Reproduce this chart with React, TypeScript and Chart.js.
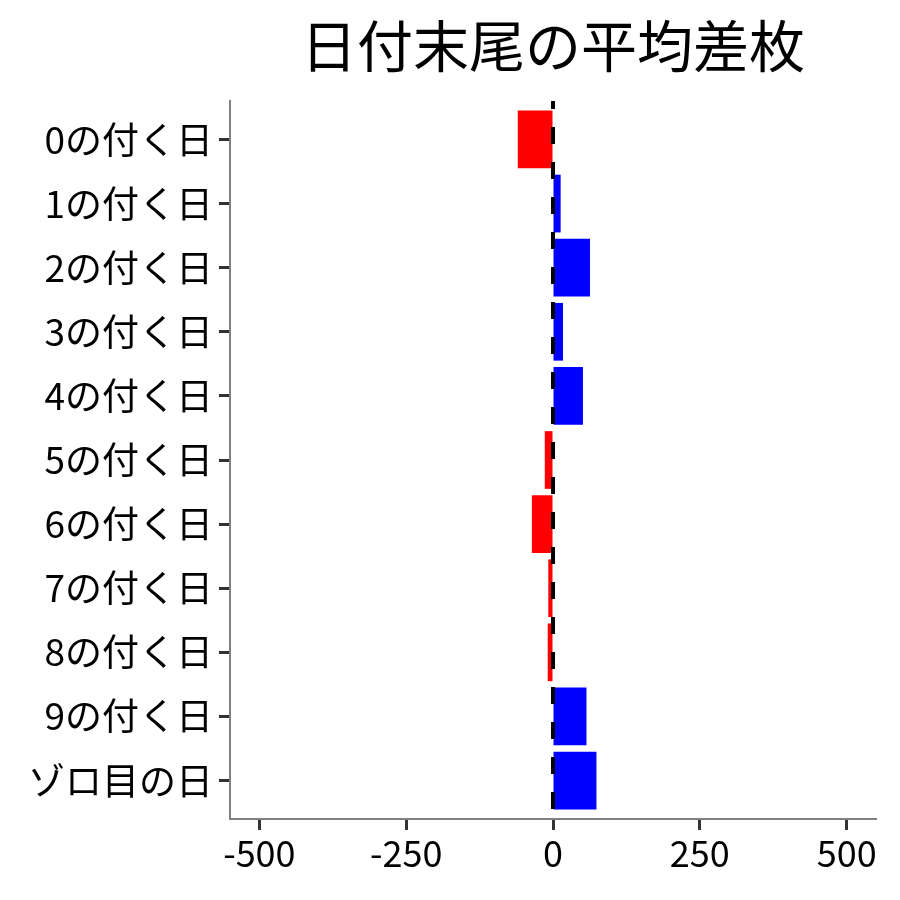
import { useEffect, useRef } from "react";
import { Chart, registerables, ChartConfiguration, Plugin } from "chart.js";

Chart.register(...registerables);

const categories = [
  "0の付く日",
  "1の付く日",
  "2の付く日",
  "3の付く日",
  "4の付く日",
  "5の付く日",
  "6の付く日",
  "7の付く日",
  "8の付く日",
  "9の付く日",
  "ゾロ目の日",
];
const avgDiff = [-60, 13, 63, 17, 51, -14, -36, -8, -9, 57, 74];
const xTicks = [-500, -250, 0, 250, 500];
const chartTitle = "日付末尾の平均差枚";

const FONT = '"Noto Sans CJK JP", "Noto Sans CJK SC", sans-serif';

// title centred over the plot panel, like ggplot does
const titlePlugin: Plugin = {
  id: "panelTitle",
  afterDraw(chart) {
    const { ctx, chartArea } = chart;
    ctx.save();
    ctx.font = `56px ${FONT}`;
    ctx.fillStyle = "#000";
    ctx.textAlign = "center";
    ctx.textBaseline = "middle";
    ctx.fillText(chartTitle, (chartArea.left + chartArea.right) / 2, 46);
    ctx.restore();
  },
};

// dashed reference line at x = 0
const zeroLine: Plugin = {
  id: "zeroLine",
  afterDatasetsDraw(chart) {
    const { ctx, chartArea } = chart;
    const x = chart.scales.x.getPixelForValue(0);
    ctx.save();
    ctx.strokeStyle = "#000";
    ctx.lineWidth = 4;
    ctx.setLineDash([17, 18]);
    ctx.lineDashOffset = 9;
    ctx.beginPath();
    ctx.moveTo(x, chartArea.top);
    ctx.lineTo(x, chartArea.bottom);
    ctx.stroke();
    ctx.restore();
  },
};

export default function App() {
  const chartRef = useRef<HTMLCanvasElement>(null);
  const chartInstance = useRef<Chart | null>(null);

  useEffect(() => {
    if (!chartRef.current) return;
    if (chartInstance.current) chartInstance.current.destroy();
    const ctx = chartRef.current.getContext("2d");
    if (!ctx) return;

    const config: ChartConfiguration = {
      type: "bar",
      data: {
        datasets: [
          {
            data: avgDiff.map((v, i) => ({ x: v, y: i })),
            backgroundColor: avgDiff.map((v) => (v < 0 ? "#ff0000" : "#0000ff")),
            borderWidth: 0,
            barPercentage: 0.9,
            categoryPercentage: 1,
          },
        ],
      },
      options: {
        indexAxis: "y",
        animation: false,
        responsive: true,
        maintainAspectRatio: false,
        layout: { padding: { top: 101, right: 24, left: 0, bottom: 0 } },
        plugins: {
          legend: { display: false },
          title: { display: false },
          tooltip: { enabled: false },
        },
        scales: {
          x: {
            type: "linear",
            min: -550,
            max: 550,
            afterBuildTicks: (scale) => {
              scale.ticks = xTicks.map((v) => ({ value: v }));
            },
            afterFit: (scale) => {
              scale.height = 81;
            },
            grid: {
              drawOnChartArea: false,
              drawTicks: true,
              tickLength: 11,
              tickWidth: 3,
              tickColor: "#333333",
            },
            border: { display: true, color: "#808080", width: 2 },
            ticks: {
              color: "#000",
              font: { family: FONT, size: 36 },
              padding: 2,
              maxRotation: 0,
            },
          },
          y: {
            type: "linear",
            offset: false,
            min: -0.6,
            max: categories.length - 0.4,
            reverse: true,
            afterBuildTicks: (scale) => {
              scale.ticks = categories.map((_, i) => ({ value: i }));
            },
            afterFit: (scale) => {
              scale.width = 230;
            },
            grid: {
              offset: false,
              drawOnChartArea: false,
              drawTicks: true,
              tickLength: 11,
              tickWidth: 3,
              tickColor: "#333333",
            },
            border: { display: true, color: "#808080", width: 2 },
            ticks: {
              color: "#000",
              font: { family: FONT, size: 37 },
              padding: 6,
              callback: (value) => categories[value as number] ?? "",
            },
          },
        },
      },
      plugins: [titlePlugin, zeroLine],
    };

    chartInstance.current = new Chart(ctx, config);

    return () => {
      if (chartInstance.current) {
        chartInstance.current.destroy();
        chartInstance.current = null;
      }
    };
  }, []);

  return (
    <div
      style={{
        position: "absolute",
        left: 0,
        top: 0,
        width: 900,
        height: 900,
        background: "#fff",
      }}
    >
      <canvas ref={chartRef} />
    </div>
  );
}
